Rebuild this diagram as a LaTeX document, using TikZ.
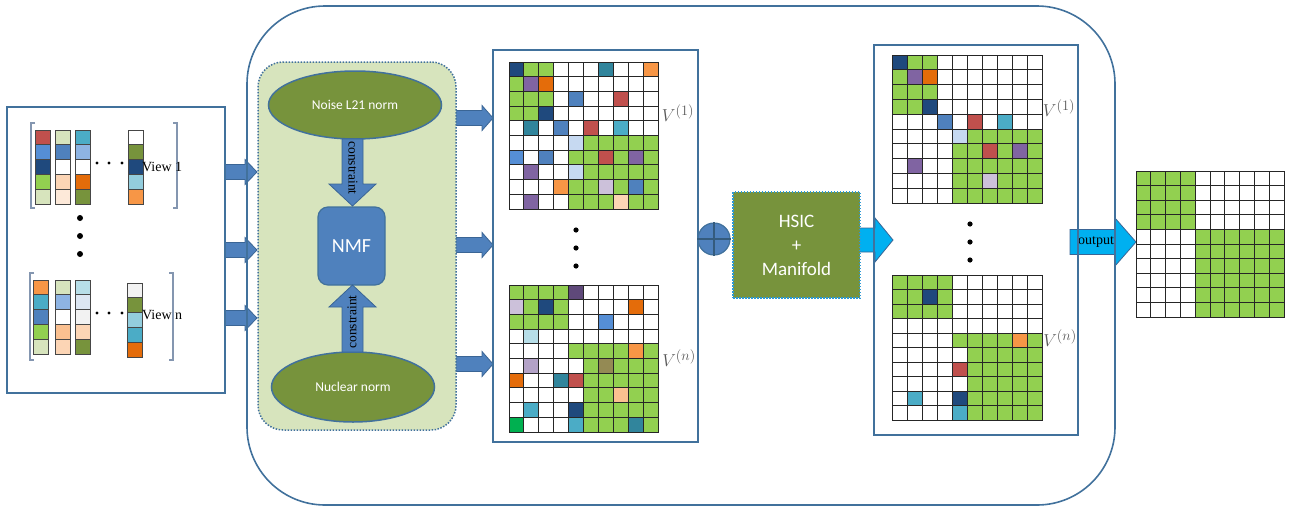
\documentclass[tikz,border=0pt]{standalone}
\usepackage{fontspec}
\setmainfont{Liberation Serif}
\newfontfamily\calfont{Carlito}
\usetikzlibrary{shapes.geometric}
\definecolor{frameblue}{HTML}{41719C}
\definecolor{arrowblue}{HTML}{4F81BD}
\definecolor{arrowedge}{HTML}{3A6595}
\definecolor{cyanarrow}{HTML}{00B0F0}
\definecolor{panelgreen}{HTML}{D7E4BD}
\definecolor{olive}{HTML}{77933C}
\definecolor{brackc}{HTML}{8496B0}
\definecolor{hsicdot}{HTML}{2E9AD6}
\definecolor{cW}{HTML}{FFFFFF}
\definecolor{cG}{HTML}{92D050}
\definecolor{cN}{HTML}{1F497D}
\definecolor{cP}{HTML}{8064A2}
\definecolor{cO}{HTML}{E46C0A}
\definecolor{co}{HTML}{F79646}
\definecolor{cT}{HTML}{31859C}
\definecolor{cB}{HTML}{4F81BD}
\definecolor{cb}{HTML}{558ED5}
\definecolor{cR}{HTML}{C0504D}
\definecolor{cC}{HTML}{4BACC6}
\definecolor{cl}{HTML}{C6D9F1}
\definecolor{cv}{HTML}{CCC1DA}
\definecolor{cV}{HTML}{B3A2C7}
\definecolor{cp}{HTML}{FCD5B5}
\definecolor{cq}{HTML}{FAC090}
\definecolor{cK}{HTML}{77933C}
\definecolor{ck}{HTML}{948A54}
\definecolor{cE}{HTML}{00B050}
\definecolor{ca}{HTML}{B7DEE8}
\definecolor{cd}{HTML}{5F497A}
\definecolor{cLG}{HTML}{D7E4BD}
\definecolor{cLP}{HTML}{FDE9D9}
\definecolor{cLB}{HTML}{8EB4E3}
\definecolor{cLC}{HTML}{93CDDD}
\definecolor{cVB}{HTML}{DCE6F2}
\definecolor{cGR}{HTML}{F2F2F2}
% grid: x0, y0, cell w, cell h, rows
\newcommand\mygrid[5]{%
  \foreach \rowlist [count=\rr from 0] in {#5} {
    \foreach \cc [count=\kk from 0] in \rowlist {
      \filldraw[cellb, fill=c\cc] ({#1+\kk*#3},{#2+\rr*#4}) rectangle ++(#3,#4);
    }
  }
}
% view column: x, y, w, h, colours
\newcommand\vcol[5]{%
  \foreach \cc [count=\kk from 0] in {#5} {
    \filldraw[vcell, fill=c\cc] ({#1},{#2+\kk*#4}) rectangle ++(#3,#4);
  }
}
% horizontal block arrow: x1, x2(tip), y, shaft half, head half, head length, style
\newcommand\harrow[7]{%
  \draw[#7] ({#1},{#3-#4}) -- ({#2-#6},{#3-#4}) -- ({#2-#6},{#3-#5}) -- ({#2},{#3})
    -- ({#2-#6},{#3+#5}) -- ({#2-#6},{#3+#4}) -- ({#1},{#3+#4}) -- cycle;
}
% vertical block arrow: y1, y2(tip), x, shaft half, head half, signed head length, style
\newcommand\varrow[7]{%
  \draw[#7] ({#3-#4},{#1}) -- ({#3-#4},{#2-(#6)}) -- ({#3-#5},{#2-(#6)}) -- ({#3},{#2})
    -- ({#3+#5},{#2-(#6)}) -- ({#3+#4},{#2-(#6)}) -- ({#3+#4},{#1}) -- cycle;
}
\begin{document}
\begin{tikzpicture}[x=1pt,y=-1pt,
  frame/.style={draw=frameblue, line width=1.6pt, inner sep=0pt},
  barrow/.style={fill=arrowblue, draw=arrowedge, line width=0.8pt},
  carrow/.style={fill=cyanarrow, draw=arrowedge, line width=0.8pt},
  cellb/.style={draw=black!85, line width=1pt},
  vcell/.style={draw=gray!55!black, line width=0.9pt},
  normell/.style={ellipse, fill=olive, draw=frameblue, line width=1.5pt, inner sep=0pt,
    text=white, font=\calfont\fontsize{13.5}{15}\selectfont},
  vlabel/.style={text=black!65, font=\fontsize{19}{21}\selectfont},
  dot/.style={fill=black}]
\useasboundingbox (0,0) rectangle (1291,509);

% ---------- block arrows (drawn first, frames pass over them) ----------
\harrow{225}{257}{172}{7.5}{12.5}{12}{barrow}
\harrow{225}{257}{250}{7.5}{12.5}{12}{barrow}
\harrow{225}{257}{318}{7.5}{12.5}{12}{barrow}
\harrow{455}{493}{118}{7.5}{12.5}{11}{barrow}
\harrow{455}{493}{245}{7.5}{12.5}{11}{barrow}
\harrow{455}{493}{364}{7.5}{12.5}{11}{barrow}
\harrow{858}{893}{240}{12}{22}{18}{carrow}
\harrow{1070}{1136}{242}{12.5}{24}{21}{carrow}
\node[font=\fontsize{14}{16}\selectfont, inner sep=0pt] (outlbl) at (1096,242) {output};

% ---------- frames ----------
\node[frame, rounded corners=78pt, minimum width=868pt, minimum height=499pt] (main) at (681,255.5) {};
\node[frame, line width=2pt, minimum width=218pt, minimum height=286pt] (input) at (116,250) {};
\node[frame, minimum width=205pt, minimum height=392pt] (box1) at (595.5,246) {};
\node[frame, minimum width=204pt, minimum height=390pt] (box2) at (976,240) {};

% ---------- input views ----------
\vcol{35}{130}{15}{14.8}{R,b,N,G,LG}
\vcol{55}{130}{15}{14.8}{LG,B,W,p,LP}
\vcol{75}{130}{15}{14.8}{C,LB,W,O,K}
\vcol{128}{130}{15}{14.8}{W,K,N,LC,o}
\draw[brackc, line width=1.2pt] (35,123) -- (31,123) -- (31,208) -- (35,208);
\draw[brackc, line width=1.2pt] (173,123) -- (177,123) -- (177,208) -- (173,208);
\foreach \xx in {97,109,122} \fill[dot] (\xx,163) circle (1.7);
\node[anchor=west, inner sep=0pt, font=\fontsize{14}{16}\selectfont] (v1) at (142,167) {View 1};

\vcol{33}{280}{15}{14.8}{o,C,B,G,LG}
\vcol{55}{280}{15}{14.8}{LG,LB,W,q,p}
\vcol{75}{280}{15}{14.8}{a,VB,GR,p,K}
\vcol{127}{283}{15}{14.8}{GR,K,LC,C,O}
\draw[brackc, line width=1.2pt] (34,273) -- (30,273) -- (30,360) -- (34,360);
\draw[brackc, line width=1.2pt] (169,273) -- (173,273) -- (173,360) -- (169,360);
\foreach \xx in {97,109,122} \fill[dot] (\xx,313) circle (1.7);
\node[anchor=west, inner sep=0pt, font=\fontsize{14}{16}\selectfont] (vn) at (142,315) {View n};

\foreach \yy in {218,236,254} \fill[dot] (80,\yy) circle (3);

% ---------- NMF panel ----------
\node[fill=panelgreen, draw=frameblue, line width=1.5pt, dash pattern=on 1.5pt off 1.5pt,
  rounded corners=25pt, minimum width=198pt, minimum height=368pt, inner sep=0pt] (panel) at (357,246) {};
\node[normell, minimum width=173pt, minimum height=68pt] (noise) at (355,105) {Noise L21 norm};
\node[normell, minimum width=163pt, minimum height=70pt] (nuclear) at (353,387) {Nuclear norm};
\node[fill=arrowblue, draw=frameblue, line width=1.2pt, rounded corners=10pt,
  minimum width=67pt, minimum height=78pt, inner sep=0pt, text=white,
  font=\calfont\fontsize{20}{22}\selectfont] (nmf) at (351.5,246) {NMF};
\varrow{139}{206}{352.5}{10.5}{23.5}{22}{barrow}
\varrow{352}{285}{352.5}{10.5}{23.5}{-22}{barrow}
\node[rotate=-90, inner sep=0pt, font=\fontsize{13.5}{15}\selectfont] (c1) at (353,168) {constraint};
\node[rotate=90, inner sep=0pt, font=\fontsize{13.5}{15}\selectfont] (c2) at (352,322) {constraint};

% ---------- matrices, box 1 ----------
\mygrid{509}{62}{14.9}{14.7}{{N,G,G,W,W,W,T,W,W,o},{G,P,O,W,W,W,W,W,W,W},{G,G,G,W,B,W,W,R,W,W},{G,G,N,W,W,W,W,W,W,W},{W,T,W,B,W,R,W,C,W,W},{W,W,W,W,l,G,G,G,G,G},{b,W,B,W,G,G,R,G,P,G},{W,P,W,W,l,G,G,G,G,G},{W,W,W,o,G,G,v,G,B,G},{W,P,W,W,G,G,G,p,G,G}}
\mygrid{509}{285}{14.9}{14.7}{{G,G,G,G,d,W,W,W,W,W},{v,G,N,G,W,W,W,W,O,W},{G,G,G,G,W,W,b,W,W,W},{W,a,W,W,W,W,W,W,W,W},{W,W,W,W,G,G,G,G,o,G},{W,V,W,W,W,G,k,G,G,G},{O,W,W,T,R,G,G,G,G,G},{W,W,W,W,W,G,G,q,G,G},{W,C,W,W,N,G,G,G,G,G},{E,W,W,W,C,G,G,G,T,G}}
\node[vlabel] (l11) at (678,113) {$V^{(1)}$};
\node[vlabel] (l1n) at (679,358) {$V^{(n)}$};
\foreach \yy in {230,248,266} \fill[dot] (576,\yy) circle (2.6);

% ---------- fusion ----------
\node[circle, fill=arrowblue, draw=frameblue, line width=1.2pt, minimum size=32pt, inner sep=0pt] (plus) at (714,239) {};
\draw[frameblue!80!black, line width=1.2pt] (plus.north) -- (plus.south) (plus.west) -- (plus.east);
\node[fill=olive, draw=hsicdot, line width=1.5pt, dash pattern=on 1.5pt off 1.5pt,
  minimum width=127pt, minimum height=106pt, inner sep=0pt, text=white, align=center,
  font=\calfont\fontsize{19}{24}\selectfont] (hsic) at (796.5,245) {HSIC\\+\\Manifold};

% ---------- matrices, box 2 ----------
\mygrid{892}{55}{15}{14.8}{{N,G,G,W,W,W,W,W,W,W},{G,P,O,W,W,W,W,W,W,W},{G,G,G,W,W,W,W,W,W,W},{G,G,N,W,W,W,W,W,W,W},{W,W,W,B,W,R,W,C,W,W},{W,W,W,W,l,G,G,G,G,G},{W,W,W,W,G,G,R,G,P,G},{W,P,W,W,G,G,G,G,G,G},{W,W,W,W,G,G,v,G,G,G},{W,W,W,W,G,G,G,G,G,G}}
\mygrid{892}{275}{15}{14.5}{{G,G,G,G,W,W,W,W,W,W},{G,G,N,G,W,W,W,W,W,W},{G,G,G,G,W,W,W,W,W,W},{W,W,W,W,W,W,W,W,W,W},{W,W,W,W,G,G,G,G,o,G},{W,W,W,W,W,G,G,G,G,G},{W,W,W,W,R,G,G,G,G,G},{W,W,W,W,W,G,G,G,G,G},{W,C,W,W,N,G,G,G,G,G},{W,W,W,W,C,G,G,G,G,G}}
\node[vlabel] (l21) at (1059,108) {$V^{(1)}$};
\node[vlabel] (l2n) at (1060,338) {$V^{(n)}$};
\foreach \yy in {224,242,260} \fill[dot] (970,\yy) circle (2.6);

% ---------- output ----------
\mygrid{1136}{171}{14.8}{14.6}{{G,G,G,G,W,W,W,W,W,W},{G,G,G,G,W,W,W,W,W,W},{G,G,G,G,W,W,W,W,W,W},{G,G,G,G,W,W,W,W,W,W},{W,W,W,W,G,G,G,G,G,G},{W,W,W,W,G,G,G,G,G,G},{W,W,W,W,G,G,G,G,G,G},{W,W,W,W,G,G,G,G,G,G},{W,W,W,W,G,G,G,G,G,G},{W,W,W,W,G,G,G,G,G,G}}
\end{tikzpicture}
\end{document}
